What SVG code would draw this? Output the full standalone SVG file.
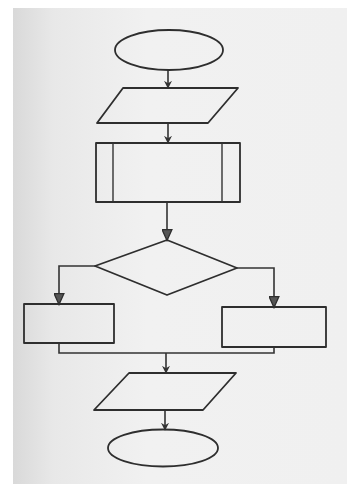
<svg xmlns="http://www.w3.org/2000/svg" width="347" height="484" viewBox="0 0 347 484">
  <defs>
    <linearGradient id="paper" x1="0" y1="0" x2="1" y2="0">
      <stop offset="0" stop-color="#d9d9d9"/>
      <stop offset="0.12" stop-color="#e8e8e8"/>
      <stop offset="0.4" stop-color="#f1f1f1"/>
      <stop offset="1" stop-color="#f0f0f0"/>
    </linearGradient>
    <marker id="tip-s" viewBox="0 0 10 10" refX="9" refY="5" markerWidth="8" markerHeight="8" markerUnits="userSpaceOnUse" orient="auto">
      <path d="M0,0 L10,5 L0,10 L3,5 Z" fill="#333"/>
    </marker>
    <marker id="tip-l" viewBox="0 0 10 10" refX="9.5" refY="5" markerWidth="13" markerHeight="11" markerUnits="userSpaceOnUse" orient="auto">
      <path d="M0,0.5 L10,5 L0,9.5 Z" fill="#555" stroke="#2e2e2e" stroke-width="1.2"/>
    </marker>
    <style>
      .shape { fill: none; stroke: #2e2e2e; stroke-width: 1.8; stroke-linejoin: round; }
      .inner { fill: none; stroke: #333; stroke-width: 1.4; }
      .wire { fill: none; stroke: #333; stroke-width: 1.6; }
    </style>
  </defs>

  <!-- paper background -->
  <rect x="0" y="0" width="347" height="484" fill="#ffffff"/>
  <rect x="13" y="8" width="334" height="476" fill="url(#paper)"/>

  <!-- connectors -->
  <g id="connectors">
    <path class="wire" d="M168,70 V88" marker-end="url(#tip-s)"/>
    <path class="wire" d="M168,123 V143" marker-end="url(#tip-s)"/>
    <path class="wire" d="M167,202 V240" marker-end="url(#tip-l)"/>
    <path class="wire" d="M95,266 H59 V304" marker-end="url(#tip-l)"/>
    <path class="wire" d="M237,268 H274 V307" marker-end="url(#tip-l)"/>
    <path class="wire" d="M59,343 V353 H274 V347"/>
    <path class="wire" d="M166,353 V373" marker-end="url(#tip-s)"/>
    <path class="wire" d="M165,410 V430" marker-end="url(#tip-s)"/>
  </g>

  <!-- start terminator -->
  <g id="start">
    <ellipse class="shape" cx="169" cy="50" rx="54" ry="20"/>
  </g>

  <!-- input -->
  <g id="input">
    <polygon class="shape" points="123,88 238,88 208,123 97,123"/>
  </g>

  <!-- predefined process -->
  <g id="subroutine">
    <rect class="shape" x="96" y="143" width="144" height="59"/>
    <line class="inner" x1="113" y1="143" x2="113" y2="202"/>
    <line class="inner" x1="222" y1="143" x2="222" y2="202"/>
  </g>

  <!-- decision -->
  <g id="decision">
    <polygon class="shape" points="167,240 237,268 167,295 95,266"/>
  </g>

  <!-- left branch process -->
  <g id="left-process">
    <rect class="shape" x="24" y="304" width="90" height="39"/>
  </g>

  <!-- right branch process -->
  <g id="right-process">
    <rect class="shape" x="222" y="307" width="104" height="40"/>
  </g>

  <!-- output -->
  <g id="output">
    <polygon class="shape" points="129,373 236,373 203,410 94,410"/>
  </g>

  <!-- end terminator -->
  <g id="end">
    <ellipse class="shape" cx="163" cy="448" rx="55" ry="18.5"/>
  </g>
</svg>
